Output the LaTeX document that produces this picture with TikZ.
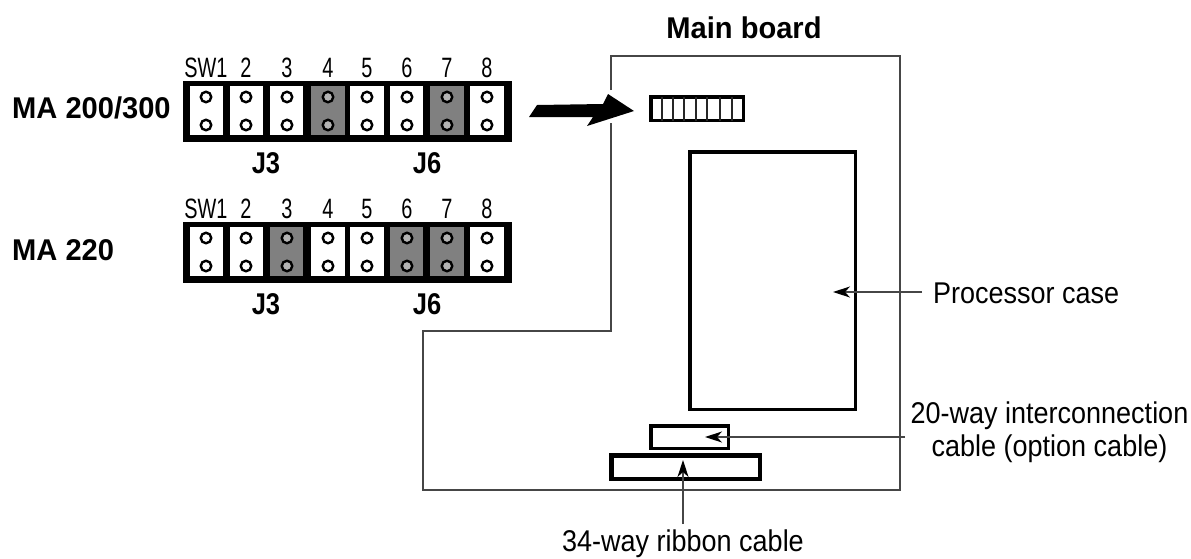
\documentclass[tikz,border=0pt]{standalone}
\usepackage{fontspec}
\setmainfont{Liberation Sans}
\usetikzlibrary{arrows.meta}
\definecolor{jgray}{RGB}{128,128,128}
\definecolor{pingray}{RGB}{179,179,179}
\definecolor{lineg}{RGB}{70,70,70}
\tikzset{
  lbl/.style={inner sep=0pt,font=\fontsize{30}{33}\selectfont,xscale=.9},
  boldlbl/.style={inner sep=0pt,anchor=base,font=\fontsize{30}{33}\selectfont\bfseries,xscale=.97},
  num/.style={inner sep=0pt,xscale=.71,font=\fontsize{28}{30}\selectfont},
  jlbl/.style={inner sep=0pt,font=\fontsize{30}{32}\selectfont\bfseries,xscale=.85},
  thinln/.style={draw=lineg,line width=1.1pt},
  box/.style={draw=black,line width=3.5pt,fill=white,inner sep=0pt},
  pin/.style={circle,draw=black,line width=2.4pt,fill=#1,minimum size=10.5pt,inner sep=0pt},
  leader/.style={draw=lineg,line width=1.2pt,-{Stealth[length=17pt,width=11pt,inset=5pt,color=black,fill=black]}},
}
% name, top y, number of the cell, left, right, pin x, cell colour, pin colour, text
\newcommand{\jcell}[9]{%
  \fill[#7] (#4,#2+5) rectangle (#5,#2+54);
  \node[pin=#8] (#1p#3a) at (#6,#2+16) {};
  \node[pin=#8] (#1p#3b) at (#6,#2+44) {};
  \node[num] (#1t#3) at (#6,#2-13) {#9};
}
\newcommand{\jback}[2]{%
  \fill[black] (183,#2) rectangle (512,#2+61);
  \node[jlbl] (#1j3) at (266,#2+82) {J3};
  \node[jlbl] (#1j6) at (427,#2+82) {J6};
}
\begin{document}
\begin{tikzpicture}[x=1pt,y=-1pt]
\useasboundingbox (0,0) rectangle (1191,558);
\jback{a}{81}
\jcell{a}{81}{1}{190}{223}{206}{white}{white}{SW1}
\jcell{a}{81}{2}{230}{263}{246}{white}{white}{2}
\jcell{a}{81}{3}{270}{303}{287}{white}{white}{3}
\jcell{a}{81}{4}{311}{345}{328}{jgray}{pingray}{4}
\jcell{a}{81}{5}{350}{384}{367}{white}{white}{5}
\jcell{a}{81}{6}{390}{423}{407}{white}{white}{6}
\jcell{a}{81}{7}{430}{464}{447}{jgray}{pingray}{7}
\jcell{a}{81}{8}{470}{504}{487}{white}{white}{8}
\jback{b}{222}
\jcell{b}{222}{1}{190}{223}{206}{white}{white}{SW1}
\jcell{b}{222}{2}{230}{263}{246}{white}{white}{2}
\jcell{b}{222}{3}{270}{303}{287}{jgray}{pingray}{3}
\jcell{b}{222}{4}{311}{345}{328}{white}{white}{4}
\jcell{b}{222}{5}{350}{384}{367}{white}{white}{5}
\jcell{b}{222}{6}{390}{423}{407}{jgray}{pingray}{6}
\jcell{b}{222}{7}{430}{464}{447}{jgray}{pingray}{7}
\jcell{b}{222}{8}{470}{504}{487}{white}{white}{8}
\node[boldlbl,anchor=base west] (ma200) at (12,118) {MA 200/300};
\node[boldlbl,anchor=base west] (ma220) at (12,260) {MA 220};
\node[boldlbl] (mainb) at (744,38) {Main board};
\draw[thinln] (611,90) -- (611,56) -- (900,56) -- (900,490) -- (423,490) -- (423,331) -- (611,331) -- (611,123);
\fill[black] (537,105) -- (603,104) -- (608,94) -- (634,111) -- (587,126) -- (593,117) -- (529,117) -- cycle;
\node[box,anchor=north west,minimum width=92.5pt,minimum height=23.5pt] (conn) at (649,95) {};
\foreach \x in {662,673,684,696,707,720,732}{\draw[black!85,line width=1.2pt] (\x,96.5) -- (\x,120.5);}
\node[box,anchor=north west,minimum width=165.5pt,minimum height=257.5pt] (proc) at (688,150) {};
\node[box,anchor=north west,minimum width=77.5pt,minimum height=22.5pt] (opt) at (649,424) {};
\node[box,line width=4.5pt,anchor=north west,minimum width=148.5pt,minimum height=23.5pt] (rib) at (609,453) {};
\coordinate (pt) at (833,292);
\coordinate (ot) at (705,437);
\coordinate (rt) at (683,460);
\node[lbl,anchor=base west] (plabel) at (933,303) {Processor case};
\node[lbl,anchor=base] (olabel1) at (1049.5,423) {20-way interconnection};
\node[lbl,anchor=base] (olabel2) at (1049.5,456) {cable (option cable)};
\node[lbl,anchor=base] (rlabel) at (683,551) {34-way ribbon cable};
\coordinate (ps) at (922,292);
\coordinate (os) at (905,437);
\coordinate (rs) at (683,524);
\draw[leader] (ps) -- (pt);
\draw[leader] (os) -- (ot);
\draw[leader] (rs) -- (rt);
\end{tikzpicture}
\end{document}
